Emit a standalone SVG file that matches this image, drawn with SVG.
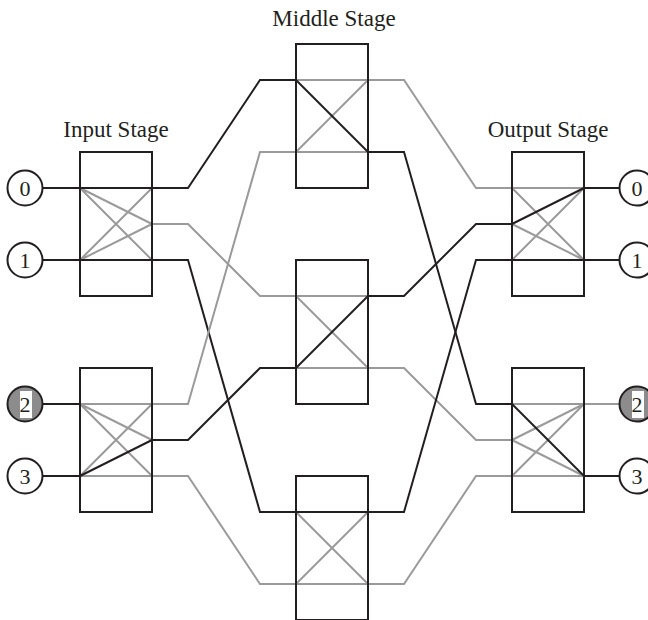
<svg xmlns="http://www.w3.org/2000/svg" width="648" height="620" viewBox="0 0 648 620">
<style>
.sw{fill:none;stroke:#231f20;stroke-width:2}
.k{fill:none;stroke:#231f20;stroke-width:2;stroke-linejoin:miter}
.g{fill:none;stroke:#9a9a9a;stroke-width:2}
.c{fill:#fff;stroke:#231f20;stroke-width:2}
.cg{fill:#8c8c8c;stroke:#231f20;stroke-width:2}
.t{font-family:"Liberation Serif","Times New Roman",serif;fill:#231f20}
.lbl{font-size:23px;text-anchor:middle}
.num{font-size:22px;text-anchor:middle}
</style>
<rect width="648" height="620" fill="#fff"/>
<text class="t lbl" x="116" y="137">Input Stage</text>
<text class="t lbl" x="334" y="26">Middle Stage</text>
<text class="t lbl" x="548" y="137">Output Stage</text>

<g id="connectors">
<path class="k" d="M43 188H80M43 260H80M43 404H80M43 476H80"/>
<path class="k" d="M584 188H620M584 260H620M584 476H620"/>
<path class="g" d="M584 404H620"/>
<path class="k" d="M152 188H188L260 80H296"/>
<path class="g" d="M152 224H188L260 296H296"/>
<path class="k" d="M152 260H188L260 512H296"/>
<path class="g" d="M152 404H188L260 152H296"/>
<path class="k" d="M152 440H188L260 368H296"/>
<path class="g" d="M152 476H188L260 584H296"/>
<path class="g" d="M368 80H404L476 188H512"/>
<path class="k" d="M368 152H404L476 404H512"/>
<path class="k" d="M368 296H404L476 224H512"/>
<path class="g" d="M368 368H404L476 440H512"/>
<path class="k" d="M368 512H404L476 260H512"/>
<path class="g" d="M368 584H404L476 476H512"/>
</g>

<g id="in1">
<path class="g" d="M80 188L152 224M80 188L152 260M80 260L152 188M80 260L152 224"/>
<path class="k" d="M80 188H152M80 260H152"/>
<rect class="sw" x="80" y="152" width="72" height="144"/>
</g>
<g id="in2">
<path class="g" d="M80 404H152M80 476H152M80 404L152 440M80 404L152 476M80 476L152 404"/>
<path class="k" d="M80 476L152 440"/>
<rect class="sw" x="80" y="368" width="72" height="144"/>
</g>
<g id="mid1">
<path class="g" d="M296 80H368M296 152H368M296 152L368 80"/>
<path class="k" d="M296 80L368 152"/>
<rect class="sw" x="296" y="44" width="72" height="144"/>
</g>
<g id="mid2">
<path class="g" d="M296 296H368M296 368H368M296 296L368 368"/>
<path class="k" d="M296 368L368 296"/>
<rect class="sw" x="296" y="260" width="72" height="144"/>
</g>
<g id="mid3">
<path class="g" d="M296 584H368M296 512L368 584M296 584L368 512"/>
<path class="k" d="M296 512H368"/>
<rect class="sw" x="296" y="476" width="72" height="144"/>
</g>
<g id="out1">
<path class="g" d="M512 188H584M512 188L584 260M512 224L584 260M512 260L584 188"/>
<path class="k" d="M512 260H584M512 224L584 188"/>
<rect class="sw" x="512" y="152" width="72" height="144"/>
</g>
<g id="out2">
<path class="g" d="M512 404H584M512 476H584M512 440L584 404M512 440L584 476M512 476L584 404"/>
<path class="k" d="M512 404L584 476"/>
<rect class="sw" x="512" y="368" width="72" height="144"/>
</g>

<g id="i0"><circle class="c" cx="25" cy="188" r="17.5"/><text class="t num" x="25" y="196">0</text></g>
<g id="i1"><circle class="c" cx="25" cy="260" r="17.5"/><text class="t num" x="25" y="268">1</text></g>
<g id="i2"><circle class="cg" cx="25" cy="404" r="17.5"/><rect x="20" y="391" width="12" height="27" fill="#fff"/><text class="t num" x="25" y="412">2</text></g>
<g id="i3"><circle class="c" cx="25" cy="476" r="17.5"/><text class="t num" x="25" y="484">3</text></g>
<g id="o0"><circle class="c" cx="637" cy="188" r="17.5"/><text class="t num" x="637" y="196">0</text></g>
<g id="o1"><circle class="c" cx="637" cy="260" r="17.5"/><text class="t num" x="637" y="268">1</text></g>
<g id="o2"><circle class="cg" cx="637" cy="404" r="17.5"/><rect x="632" y="391" width="12" height="27" fill="#fff"/><text class="t num" x="637" y="412">2</text></g>
<g id="o3"><circle class="c" cx="637" cy="476" r="17.5"/><text class="t num" x="637" y="484">3</text></g>
</svg>
